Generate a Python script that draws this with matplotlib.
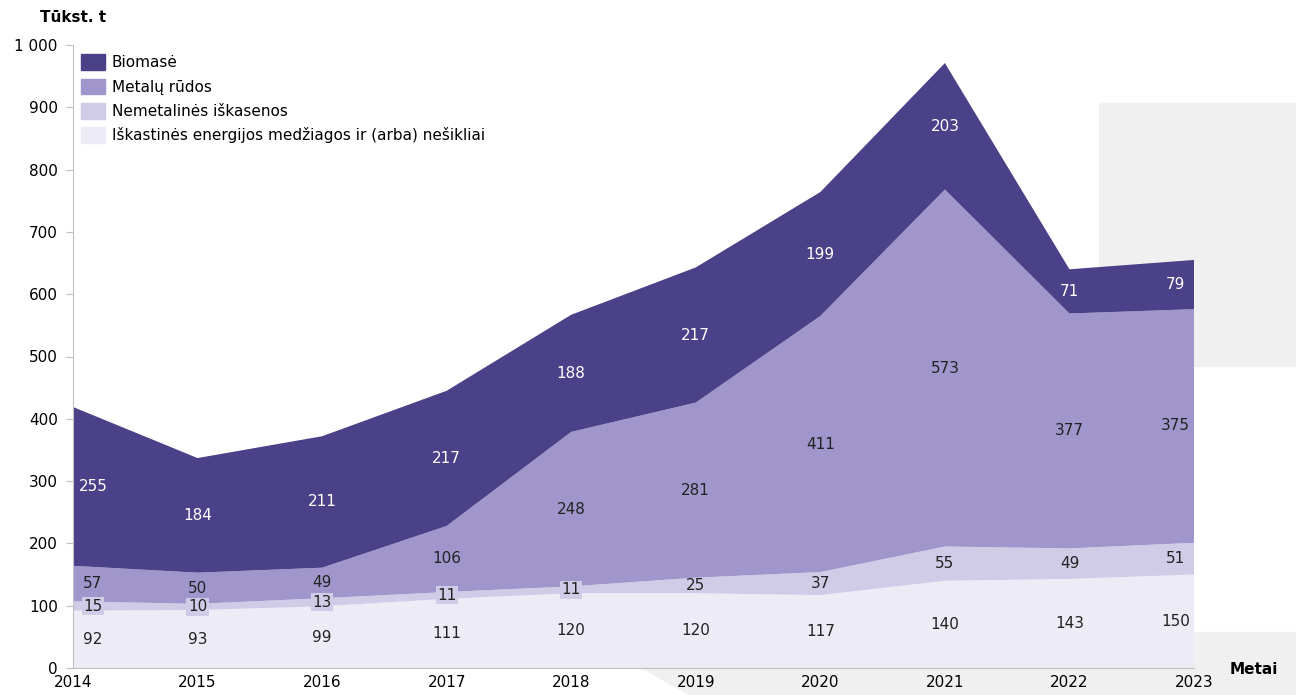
import matplotlib.pyplot as plt
from matplotlib.patches import Polygon, Rectangle
import numpy as np

years = [2014, 2015, 2016, 2017, 2018, 2019, 2020, 2021, 2022, 2023]
iskastines = [92, 93, 99, 111, 120, 120, 117, 140, 143, 150]
nemetalines = [15, 10, 13, 11, 11, 25, 37, 55, 49, 51]
metalu = [57, 50, 49, 106, 248, 281, 411, 573, 377, 375]
biomase = [255, 184, 211, 217, 188, 217, 199, 203, 71, 79]

series = [iskastines, nemetalines, metalu, biomase]
names = ['Iškastinės energijos medžiagos ir (arba) nešikliai',
         'Nemetalinės iškasenos', 'Metalų rūdos', 'Biomasė']
colors = ['#edebf6', '#d0cbe6', '#a096cc', '#4b4189']
txt_colors = ['#222222', '#222222', '#222222', 'white']

plt.rcParams['font.family'] = ['DejaVu Sans']

W, H = 1296, 695
fig = plt.figure(figsize=(W / 100, H / 100), dpi=100)

# 1) dekoratyvus pilkas fonas
fig.patches.append(Rectangle((1099 / W, 1 - 366 / H), 197 / W, 263 / H,
                             transform=fig.transFigure, color='#f0f0f0', zorder=-1))
pts = [(580, 632), (1296, 632), (1296, 695), (690, 695)]
fig.patches.append(Polygon([(x / W, 1 - y / H) for x, y in pts], closed=True,
                           transform=fig.transFigure, color='#f0f0f0', zorder=-1))

ax = fig.add_axes([73 / W, 1 - 668 / H, (1194 - 73) / W, (668 - 45) / H])
ax.set_facecolor('none')

# 2) sluoksniuotas plotas
ax.stackplot(years, *series, colors=colors, linewidth=0, zorder=2)

# 3) reikšmių žymos
base = np.zeros(len(years))
for k, s in enumerate(series):
    s = np.array(s)
    mid = base + s / 2
    for i, yr in enumerate(years):
        x = yr
        if i == 0:
            x += 0.16
        elif i == len(years) - 1:
            x -= 0.15
        box = None
        if k == 1 and s[i] < 20:
            box = dict(boxstyle='square,pad=0.1', fc=colors[1], ec='none')
        ax.text(x, mid[i], str(s[i]), ha='center', va='center', fontsize=11,
                color=txt_colors[k], bbox=box, zorder=3)
    base = base + s

ax.set_xlim(2014, 2023)
ax.set_ylim(0, 1000)
ax.set_xticks(years)
ax.set_xticklabels([str(y) for y in years], fontsize=11)
ax.set_yticks(range(0, 1001, 100))
ax.set_yticklabels([f'{v:,}'.replace(',', ' ') for v in range(0, 1001, 100)], fontsize=11)
ax.tick_params(axis='x', length=0, pad=5)
ax.tick_params(axis='y', length=5, color='#c0c0c0', pad=6)
for side in ['top', 'right']:
    ax.spines[side].set_visible(False)
ax.spines['left'].set_color('#c0c0c0')
ax.spines['bottom'].set_color('#c0c0c0')

# 4) legenda
handles = [Rectangle((0, 0), 1, 1, color=colors[k]) for k in [3, 2, 1, 0]]
labels = [names[k] for k in [3, 2, 1, 0]]
ax.legend(handles, labels, loc='upper left', bbox_to_anchor=(-0.001, 1.0),
          frameon=False, fontsize=11, handlelength=1.55, handleheight=1.2,
          handletextpad=0.45, labelspacing=0.55, borderaxespad=0.2)

fig.text(40 / W, 1 - 17 / H, 'Tūkst. t', fontsize=11, fontweight='bold', va='center')
fig.text(1230 / W, 1 - 670 / H, 'Metai', fontsize=11, fontweight='bold', va='center')

fig.savefig('out.png', dpi=100)
